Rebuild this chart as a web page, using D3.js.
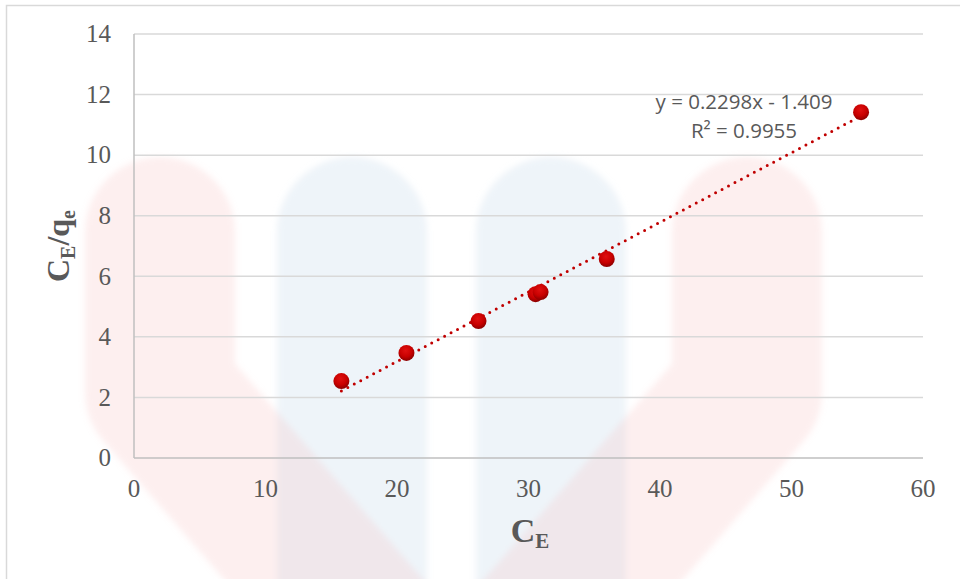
<!DOCTYPE html>
<html><head><meta charset="utf-8">
<script src="https://cdn.jsdelivr.net/npm/d3@7"></script>
<style>body{margin:0;background:#fff;}svg{display:block;}</style>
</head><body>
<svg id="chart" width="960" height="579"></svg>
<script>
const ceValues = [15.77, 20.72, 26.2, 30.54, 30.92, 35.95, 55.29];
const ratioValues = [2.54, 3.47, 4.52, 5.41, 5.48, 6.57, 11.42];
const xTicks = [0, 10, 20, 30, 40, 50, 60];
const yTicks = [0, 2, 4, 6, 8, 10, 12, 14];
const slope = 0.2298, intercept = -1.409;
const eqLabel = "y = 0.2298x - 1.409";
const r2Label = "R² = 0.9955";

const svg = d3.select("#chart");
const x = d3.scaleLinear().domain([0, 60]).range([134, 923]);
const y = d3.scaleLinear().domain([0, 14]).range([458, 34]);

// watermark
const defs = svg.append("defs");
defs.append("filter").attr("id", "soft")
  .attr("filterUnits", "userSpaceOnUse").attr("x", -50).attr("y", -50).attr("width", 1100).attr("height", 700)
  .append("feGaussianBlur").attr("stdDeviation", 3);
const wm = svg.append("g").attr("filter", "url(#soft)");
[352, 551].forEach(cx => {
  wm.append("rect").attr("x", cx - 75).attr("y", 157).attr("width", 150).attr("height", 600)
    .attr("rx", 75).attr("fill", "#d3e1ee").attr("fill-opacity", 0.38);
});
[[160, 385], [747, 522]].forEach(([cx, ex]) => {
  wm.append("path")
    .attr("d", `M${cx},232 L${cx},392 L${ex},650`)
    .attr("fill", "none").attr("stroke", "#f6bcbc").attr("stroke-opacity", 0.24)
    .attr("stroke-width", 150).attr("stroke-linecap", "round").attr("stroke-linejoin", "round");
});

// outer border
svg.append("rect").attr("x", 6.5).attr("y", 5.5).attr("width", 980).attr("height", 600)
  .attr("fill", "none").attr("stroke", "#d9d9d9").attr("stroke-width", 1.5);

// gridlines
svg.append("g").selectAll("line").data(yTicks.filter(d => d > 0)).join("line")
  .attr("x1", x(0)).attr("x2", x(60)).attr("y1", d => y(d)).attr("y2", d => y(d))
  .attr("stroke", "#d9d9d9").attr("stroke-width", 1.5);

// axes lines
svg.append("line").attr("x1", x(0)).attr("x2", x(60)).attr("y1", y(0)).attr("y2", y(0))
  .attr("stroke", "#bfbfbf").attr("stroke-width", 1.5);
svg.append("line").attr("x1", x(0)).attr("x2", x(0)).attr("y1", y(0)).attr("y2", y(14))
  .attr("stroke", "#bfbfbf").attr("stroke-width", 1.5);

// tick labels
const tickFont = "'Liberation Serif', 'Times New Roman', serif";
svg.append("g").selectAll("text").data(yTicks).join("text")
  .attr("x", 111).attr("y", d => y(d)).attr("dy", "0.33em")
  .attr("text-anchor", "end").attr("font-family", tickFont).attr("font-size", 25)
  .attr("fill", "#595959").text(d => d);
svg.append("g").selectAll("text").data(xTicks).join("text")
  .attr("x", d => x(d)).attr("y", 497)
  .attr("text-anchor", "middle").attr("font-family", tickFont).attr("font-size", 25)
  .attr("fill", "#595959").text(d => d);

// axis titles
const xt = svg.append("text").attr("x", 530).attr("y", 542).attr("text-anchor", "middle")
  .attr("font-family", tickFont).attr("font-weight", "bold").attr("font-size", 34).attr("fill", "#595959");
xt.append("tspan").text("C");
xt.append("tspan").attr("font-size", 21).attr("dy", 6).text("E");

const yt = svg.append("text").attr("transform", "translate(69,246) rotate(-90)").attr("text-anchor", "middle")
  .attr("font-family", tickFont).attr("font-weight", "bold").attr("font-size", 32).attr("fill", "#595959");
yt.append("tspan").text("C");
yt.append("tspan").attr("font-size", 20).attr("dy", 6).text("E");
yt.append("tspan").attr("dy", -6).text("/q");
yt.append("tspan").attr("font-size", 20).attr("dy", 6).text("e");

// trendline
const xMin = d3.min(ceValues), xMax = d3.max(ceValues);
svg.append("line")
  .attr("x1", x(xMin)).attr("y1", y(slope * xMin + intercept))
  .attr("x2", x(xMax)).attr("y2", y(slope * xMax + intercept))
  .attr("stroke", "#c00000").attr("stroke-width", 3).attr("stroke-dasharray", "0 7.3")
  .attr("stroke-linecap", "round");

// marker gradient
const grad = defs.append("radialGradient").attr("id", "mk").attr("cx", "45%").attr("cy", "35%").attr("r", "65%");
grad.append("stop").attr("offset", "0%").attr("stop-color", "#e01010");
grad.append("stop").attr("offset", "60%").attr("stop-color", "#c80000");
grad.append("stop").attr("offset", "100%").attr("stop-color", "#8a0000");

svg.append("g").selectAll("circle").data(ceValues.map((d, i) => [d, ratioValues[i]])).join("circle")
  .attr("cx", d => x(d[0])).attr("cy", d => y(d[1])).attr("r", 8)
  .attr("fill", "url(#mk)");

// equation
const eqFont = "'Open Sans', 'Liberation Sans', sans-serif";
svg.append("text").attr("x", 744).attr("y", 109).attr("text-anchor", "middle")
  .attr("font-family", eqFont).attr("font-size", 20.5).attr("fill", "#595959").text(eqLabel);
svg.append("text").attr("x", 744).attr("y", 138).attr("text-anchor", "middle")
  .attr("font-family", eqFont).attr("font-size", 20.5).attr("fill", "#595959").text(r2Label);
</script>
</body></html>
